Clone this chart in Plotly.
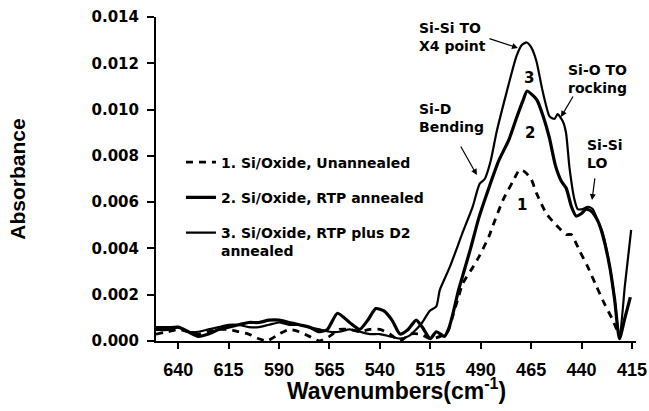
import plotly.graph_objects as go

# ---- data ----
wn_unannealed = [651, 645, 640, 635, 630, 625, 620, 615, 610, 605, 600, 596, 590, 585, 580, 575, 570,
                 565, 560, 555, 550, 545, 540, 535, 530, 525, 520, 515, 510, 506.4, 503.8, 501, 498.8,
                 493.8, 490.5, 486, 483.9, 478.9, 474, 470.7, 468, 465, 462.4, 457.4, 452.5, 447.6,
                 445.1, 441, 436.9, 432.8, 428.6, 424.5, 421.2]
abs_unannealed = [0.0003, 0.0004, 0.0005, 0.0004, 0.0003, 0.0004, 0.0005, 0.0005, 0.0004, 0.0003, 0.0001,
                  0.0, 0.0003, 0.0005, 0.0004, 0.0002, 0.0, 0.0002, 0.0005, 0.0005, 0.0004, 0.0005, 0.0005,
                  0.0003, 0.0, 0.0003, 0.0003, 0.0001, 0.0002, 0.0004, 0.0011, 0.0019, 0.0025, 0.0032,
                  0.0037, 0.0045, 0.0050, 0.0061, 0.0069, 0.0074, 0.0073, 0.0070, 0.0064, 0.0055, 0.0050,
                  0.0046, 0.0046, 0.0039, 0.0032, 0.0024, 0.0016, 0.0009, 0.0002]

wn_rtp = [651, 645, 640, 635, 630, 625, 620, 615, 610, 605, 600, 595, 590, 585, 580, 575, 570, 566,
          561, 555, 550, 546, 542, 538, 534, 530, 526, 522, 519, 515, 512, 508, 506, 504, 501, 499,
          495, 491, 486, 481, 476, 472, 469, 467, 464, 462, 459, 456, 453, 450, 447.6, 445, 442.7,
          440.2, 437.7, 435, 432, 429.6, 426, 423.6, 421.2, 418.5, 415.8]
abs_rtp = [0.0005, 0.0005, 0.0006, 0.0004, 0.0002, 0.0003, 0.0005, 0.0006, 0.0007, 0.0008, 0.0008, 0.0009,
           0.0009, 0.0008, 0.0007, 0.0006, 0.0004, 0.0005, 0.0012, 0.0008, 0.0005, 0.0009, 0.0014, 0.0013,
           0.0009, 0.0003, 0.0005, 0.0009, 0.0006, 0.0001, 0.0004, 0.0002, 0.0005, 0.0011, 0.0022, 0.0028,
           0.0040, 0.0053, 0.0066, 0.0078, 0.0087, 0.0097, 0.0104, 0.0108, 0.0106, 0.0104, 0.0097, 0.0088,
           0.0076, 0.0069, 0.0066, 0.0058, 0.0054, 0.0055, 0.0057, 0.0056, 0.0052, 0.0046, 0.0032, 0.0018,
           0.0001, 0.0010, 0.0019]

wn_d2 = [651, 645, 640, 635, 630, 625, 620, 615, 610, 605, 600, 595, 590, 585, 580, 575, 570, 565,
         560, 555, 550, 545, 540, 535, 530, 526, 522, 519, 515.3, 512, 510.3, 505.3, 498.9, 494, 490.5,
         488, 485, 482.2, 477.3, 472.3, 469.5, 467.2, 465, 462.4, 459.3, 455.8, 453.4, 451.9, 449.3,
         447.7, 446, 443.5, 441.9, 439.4, 436.9, 434.5, 432, 429.6, 426, 423.6, 421.2, 418.5, 415.4]
abs_d2 = [0.0006, 0.0006, 0.0006, 0.0004, 0.0004, 0.0005, 0.0006, 0.0007, 0.0007, 0.0006, 0.0006, 0.0007,
          0.0008, 0.0007, 0.0007, 0.0006, 0.0005, 0.0004, 0.0004, 0.0005, 0.0004, 0.0003, 0.0003, 0.0002,
          0.0001, 0.0002, 0.0005, 0.0008, 0.0013, 0.0015, 0.0022, 0.0032, 0.0047, 0.0058, 0.0068, 0.0070,
          0.0078, 0.0090, 0.0107, 0.0123, 0.0128, 0.0129, 0.0127, 0.0121, 0.0108, 0.0097, 0.0096, 0.0098,
          0.0095, 0.0090, 0.0075, 0.0061, 0.0057, 0.0057, 0.0058, 0.0057, 0.0052, 0.0047, 0.0032, 0.0018,
          0.0001, 0.0024, 0.0048]

series_names = ["1. Si/Oxide, Unannealed", "2. Si/Oxide, RTP annealed",
                "3. Si/Oxide, RTP plus D2<br>annealed"]
x_ticks = [640, 615, 590, 565, 540, 515, 490, 465, 440, 415]
y_ticks = [0.000, 0.002, 0.004, 0.006, 0.008, 0.010, 0.012, 0.014]
x_title = "Wavenumbers(cm<sup>-1</sup>)"
y_title = "Absorbance"

# annotation labels: (text, x, y)
peak_labels = [("Si-Si TO<br>X4 point", 521.6, 0.01314),
               ("Si-D<br>Bending", 521.6, 0.00964),
               ("Si-O TO<br>rocking", 447.7, 0.01132),
               ("Si-Si<br>LO", 438.3, 0.00808)]
# arrows: head (x, y) and tail (ax, ay)
arrows = [(471.5, 0.01266, 486.4, 0.01309),
          (450.2, 0.00968, 443.8, 0.01063),
          (491.9, 0.00717, 500.3, 0.00847),
          (434.8, 0.00609, 433.3, 0.00709)]
curve_numbers = [("3", 466.1, 0.01136), ("2", 465.6, 0.00899), ("1", 469.7, 0.00588)]

DJ = "DejaVu Sans"
AR = "Liberation Sans, Arial, sans-serif"

fig = go.Figure()
fig.add_trace(go.Scatter(x=wn_unannealed, y=abs_unannealed, mode="lines", name=series_names[0],
                         legendgroup="a",
                         line=dict(color="black", width=2.8, dash="7px,6px", shape="spline", smoothing=0.6)))
fig.add_trace(go.Scatter(x=wn_rtp, y=abs_rtp, mode="lines", name=series_names[1], legendgroup="b",
                         line=dict(color="black", width=3.2, shape="spline", smoothing=0.6)))
fig.add_trace(go.Scatter(x=wn_d2, y=abs_d2, mode="lines", name=series_names[2], legendgroup="c",
                         line=dict(color="black", width=2.2, shape="spline", smoothing=0.6)))

annots = []
for t, x, y in peak_labels:
    annots.append(dict(text=t, x=x, y=y, xref="x", yref="y", showarrow=False, xanchor="left",
                       yanchor="middle", align="left", font=dict(family=DJ, size=14, color="black", weight="bold")))
for hx, hy, tx, ty in arrows:
    annots.append(dict(text="", x=hx, y=hy, ax=tx, ay=ty, xref="x", yref="y", axref="x", ayref="y",
                       showarrow=True, arrowhead=2, arrowsize=1, arrowwidth=1.2, arrowcolor="black", standoff=0))
for t, x, y in curve_numbers:
    annots.append(dict(text=t, x=x, y=y, xref="x", yref="y", showarrow=False,
                       font=dict(family=DJ, size=15, color="black", weight="bold")))
# x-axis title placed just below the tick labels
annots.append(dict(text=x_title, x=0.5, y=0, xref="paper", yref="paper", xanchor="center", yanchor="top",
                   yshift=-31, showarrow=False, font=dict(family=AR, size=23, color="black", weight="bold")))

fig.update_layout(
    width=649, height=411,
    margin=dict(l=156, r=13, t=17, b=70),
    paper_bgcolor="white", plot_bgcolor="white",
    showlegend=True,
    legend=dict(x=0.052, y=0.6, xanchor="left", yanchor="top", bgcolor="rgba(0,0,0,0)",
                font=dict(family=DJ, size=14, color="black", weight="bold"),
                tracegroupgap=14, valign="top", traceorder="grouped"),
    annotations=annots,
    xaxis=dict(range=[651, 413], tickvals=x_ticks, ticktext=[str(v) for v in x_ticks], automargin=False,
               showgrid=False, zeroline=False, showline=True, linecolor="black", linewidth=2,
               ticks="outside", ticklen=6, tickwidth=2, tickcolor="black", ticklabelstandoff=5,
               tickfont=dict(family=AR, size=18, color="black", weight="bold")),
    yaxis=dict(range=[0, 0.014], tickvals=y_ticks, tickformat=".3f", automargin=False,
               showgrid=False, zeroline=False, showline=True, linecolor="black", linewidth=2,
               ticks="outside", ticklen=7, tickwidth=2, tickcolor="black", ticklabelstandoff=5,
               tickfont=dict(family=DJ, size=15, color="black", weight="bold"),
               title=dict(text=y_title, standoff=60,
                          font=dict(family=AR, size=21, color="black", weight="bold"))),
)

fig.write_html("out.html", config={"displayModeBar": False},
               post_script="document.body.style.margin='0';document.body.style.overflow='hidden';")
